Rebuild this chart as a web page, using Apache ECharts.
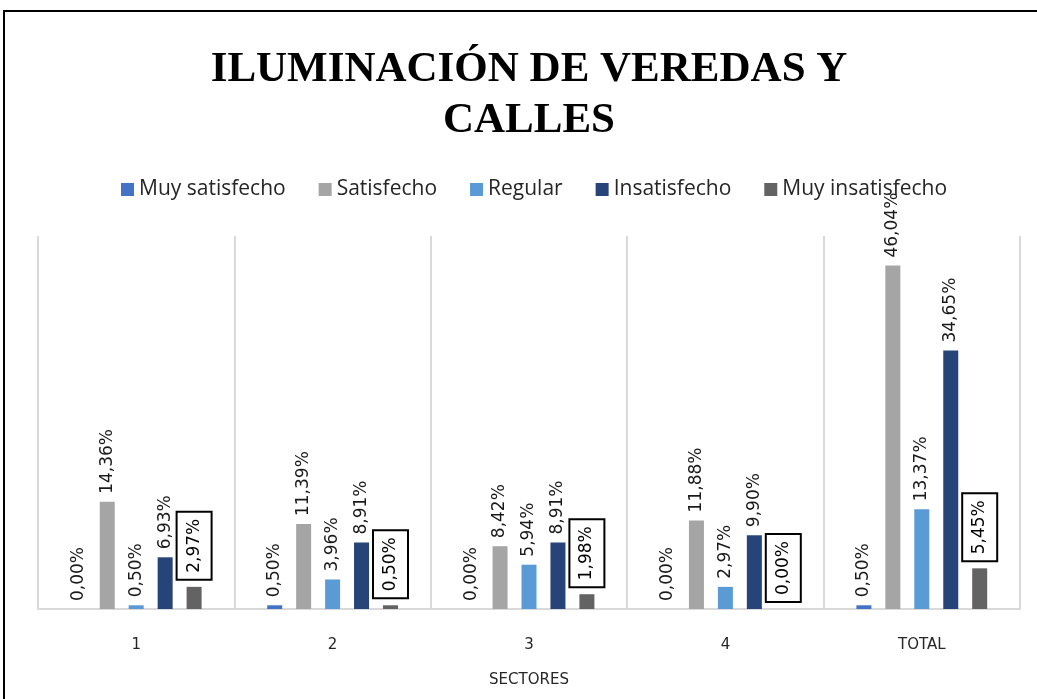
<!doctype html>
<html>
<head>
    <meta charset="utf-8">
    <script src="https://cdn.jsdelivr.net/npm/echarts@6/dist/echarts.min.js"></script>
    <style>
        html, body { margin: 0; padding: 0; background: #fff; }
        #chart { width: 1037px; height: 699px; }
    </style>
</head>
<body>
    <div id="chart"></div>
<script type="text/javascript">
    // datos del grafico
    var sectores = ['1', '2', '3', '4', 'TOTAL'];
    var muySatisfecho = [0.00, 0.50, 0.00, 0.00, 0.50];
    var satisfecho = [14.36, 11.39, 8.42, 11.88, 46.04];
    var regular = [0.50, 3.96, 5.94, 2.97, 13.37];
    var insatisfecho = [6.93, 8.91, 8.91, 9.90, 34.65];
    var muyInsatisfecho = [2.97, 0.50, 1.98, 0.00, 5.45];

    var nombres = ['Muy satisfecho', 'Satisfecho', 'Regular', 'Insatisfecho', 'Muy insatisfecho'];
    var colores = ['#4472C4', '#A5A5A5', '#5B9BD5', '#264478', '#636363'];
    var valores = [muySatisfecho, satisfecho, regular, insatisfecho, muyInsatisfecho];

    function fmt(p) {
        return p.value.toFixed(2).replace('.', ',') + '%';
    }

    var series = valores.map(function (data, i) {
        var label = {
            show: true,
            position: 'top',
            rotate: 90,
            align: 'left',
            verticalAlign: 'middle',
            distance: 8,
            fontFamily: 'DejaVu Sans',
            fontSize: 17,
            color: '#1a1a1a',
            formatter: fmt
        };
        if (i === 4) {
            // etiquetas con recuadro
            label.borderColor = '#000';
            label.borderWidth = 2;
            label.padding = [8, 6, 8, 6];
            label.backgroundColor = '#fff';
            label.color = '#000';
        }
        return {
            name: nombres[i],
            type: 'bar',
            data: data,
            barWidth: 15,
            barGap: '93%',
            itemStyle: { color: colores[i] },
            label: label
        };
    });

    var chart = echarts.init(document.getElementById('chart'));
    chart.setOption({
        animation: false,
        title: {
            text: 'ILUMINACIÓN DE VEREDAS Y\nCALLES',
            left: 524,
            textAlign: 'center',
            top: 39,
            textStyle: {
                fontFamily: 'Liberation Serif',
                fontWeight: 'bold',
                fontSize: 43,
                lineHeight: 51,
                color: '#000'
            }
        },
        legend: {
            data: nombres,
            top: 174,
            left: 116,
            itemWidth: 13,
            itemHeight: 13,
            itemGap: 33,
            icon: 'rect',
            textStyle: { fontFamily: 'Open Sans', fontSize: 21, color: '#262626', padding: 0 }
        },
        graphic: [{
            type: 'rect',
            shape: { x: 4, y: 11, width: 1100, height: 800 },
            style: { fill: 'none', stroke: '#000', lineWidth: 2 },
            silent: true
        }],
        grid: { left: 38, right: 17, top: 236, bottom: 90 },
        xAxis: {
            type: 'category',
            data: sectores,
            name: 'SECTORES',
            nameLocation: 'middle',
            nameGap: 64,
            nameTextStyle: { fontFamily: 'DejaVu Sans', fontSize: 15, color: '#262626' },
            axisLine: { lineStyle: { color: '#d9d9d9', width: 2 } },
            axisTick: { show: false },
            axisLabel: { margin: 29, fontFamily: 'DejaVu Sans', fontSize: 15, color: '#262626' },
            splitLine: { show: true, lineStyle: { color: '#d9d9d9', width: 2 } }
        },
        yAxis: {
            type: 'value',
            min: 0,
            max: 50,
            show: false
        },
        series: series
    });
</script>
</body>
</html>
